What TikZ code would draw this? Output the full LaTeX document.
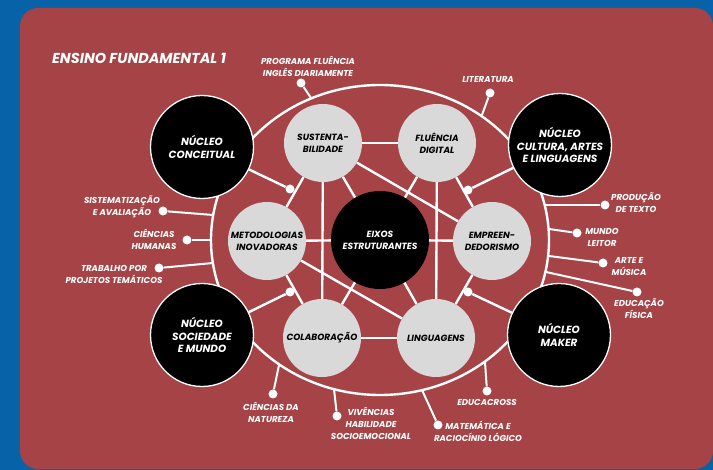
\documentclass[tikz,border=0pt]{standalone}
\usepackage{fontspec}
\setmainfont{Poppins}
\definecolor{bgblue}{RGB}{8,98,168}
\definecolor{panel}{RGB}{165,67,70}
\definecolor{lgray}{RGB}{217,217,217}
\begin{document}
\begin{tikzpicture}[x=1pt,y=-1pt,
  link/.style={draw=white, line width=2.4pt},
  tick/.style={draw=white, line width=2pt},
  inner/.style={circle, fill=lgray, minimum size=78pt, inner sep=0pt, align=center,
    font=\fontsize{9}{11.8}\selectfont\bfseries\itshape, text=black},
  core/.style={circle, fill=black, draw=white, line width=1.3pt, minimum size=103pt, inner sep=0pt,
    align=center, font=\fontsize{10.4}{12.3}\selectfont\bfseries\itshape, text=white},
  hub/.style={circle, fill=black, minimum size=98pt, inner sep=0pt, align=center,
    font=\fontsize{9}{11.8}\selectfont\bfseries\itshape, text=white},
  lab/.style={text=white, align=center, inner sep=0pt,
    font=\fontsize{8.6}{12}\selectfont\bfseries\itshape},
  dot/.style={circle, fill=white, inner sep=0pt, minimum size=9pt}
]
\useasboundingbox (0,0) rectangle (713,470);
\fill[bgblue] (0,0) rectangle (713,470);
\fill[panel, rounded corners=18pt] (20,8) rectangle (713,469);

\node[anchor=west, text=white, inner sep=0pt, font=\fontsize{14.4}{16}\selectfont\bfseries\itshape] (title) at (52,58) {ENSINO FUNDAMENTAL 1};

% big ellipse
\draw[link] (380,240) ellipse [x radius=169, y radius=155];

% outer labels: ellipse points, dots, ticks
\coordinate (e1) at (311,98);   \node[dot] (p1) at (301,83) {};
\coordinate (e2) at (482,115);  \node[dot] (p2) at (490,93) {};
\coordinate (e3) at (213,215);  \node[dot] (p3) at (163,211) {};
\coordinate (e4) at (211,240);  \node[dot] (p4) at (187,240) {};
\coordinate (e5) at (213,263);  \node[dot] (p5) at (159,268) {};
\coordinate (e6) at (279,365);  \node[dot] (p6) at (273,394) {};
\coordinate (e7) at (334,389);  \node[dot] (p7) at (337,416) {};
\coordinate (e8) at (422,390);  \node[dot] (p8) at (438,425) {};
\coordinate (e9) at (485,362);  \node[dot] (p9) at (487,391) {};
\coordinate (e10) at (545,205); \node[dot] (p10) at (605,205) {};
\coordinate (e11) at (549,229); \node[dot] (p11) at (577,233) {};
\coordinate (e12) at (549,256); \node[dot] (p12) at (603,263) {};
\coordinate (e13) at (546,272); \node[dot] (p13) at (637,292) {};
\foreach \i in {1,...,13} {\draw[tick] (e\i) -- (p\i);}

\node[lab] (l1) at (308,66) {PROGRAMA FLUÊNCIA\\INGLÊS DIARIAMENTE};
\node[lab] (l2) at (488,80) {LITERATURA};
\node[lab] (l3) at (122,206.5) {SISTEMATIZAÇÃO\\E AVALIAÇÃO};
\node[lab] (l4) at (154,239.5) {CIÊNCIAS\\HUMANAS};
\node[lab] (l5) at (114,274.5) {TRABALHO POR\\PROJETOS TEMÁTICOS};
\node[lab] (l6) at (271,412) {CIÊNCIAS DA\\NATUREZA};
\node[lab] (l7) at (371,423) {VIVÊNCIAS\\HABILIDADE\\SOCIOEMOCIONAL};
\node[lab] (l8) at (478,431.5) {MATEMÁTICA E\\RACIOCÍNIO LÓGICO};
\node[lab] (l9) at (487,402) {EDUCACROSS};
\node[lab] (l10) at (636,203) {PRODUÇÃO\\DE TEXTO};
\node[lab] (l11) at (602,237) {MUNDO\\LEITOR};
\node[lab] (l12) at (629,267) {ARTE E\\MÚSICA};
\node[lab] (l13) at (639,308.5) {EDUCAÇÃO\\FÍSICA};

% nuclei
\node[core] (conc) at (202,147) {NÚCLEO\\CONCEITUAL};
\node[core] (cult) at (560,145) {NÚCLEO\\CULTURA, ARTES\\E LINGUAGENS};
\node[core] (soc) at (202,335) {NÚCLEO\\SOCIEDADE\\E MUNDO};
\node[core] (maker) at (559,335) {NÚCLEO\\MAKER};

% center and inner circles
\node[hub] (eixos) at (380,240) {EIXOS\\ESTRUTURANTES};
\node[inner] (sust) at (323,143) {SUSTENTA-\\BILIDADE};
\node[inner] (flu) at (437,143) {FLUÊNCIA\\DIGITAL};
\node[inner] (metod) at (267,241) {METODOLOGIAS\\INOVADORAS};
\node[inner] (empre) at (492,241) {EMPREEN-\\DEDORISMO};
\node[inner] (colab) at (322,338) {COLABORAÇÃO};
\node[inner] (ling) at (436,338) {LINGUAGENS};

% inner links
\draw[link] (sust) -- (flu);
\draw[link] (colab) -- (ling);
\draw[link] (sust) -- (eixos);
\draw[link] (flu) -- (eixos);
\draw[link] (metod) -- (eixos);
\draw[link] (empre) -- (eixos);
\draw[link] (colab) -- (eixos);
\draw[link] (ling) -- (eixos);
\draw[link] (sust) -- (metod);
\draw[link] (flu) -- (empre);
\draw[link] (metod) -- (colab);
\draw[link] (empre) -- (ling);
\draw[link] (sust) -- (colab);
\draw[link] (flu) -- (ling);
\draw[link] (sust) -- (empre);
\draw[link] (metod) -- (ling);

% nucleus links with dots
\node[dot] (d1) at (290,189) {};
\node[dot] (d2) at (468,190) {};
\node[dot] (d3) at (290,292) {};
\node[dot] (d4) at (468,292) {};
\draw[link] (conc) -- (d1);
\draw[link] (cult) -- (d2);
\draw[link] (soc) -- (d3);
\draw[link] (maker) -- (d4);
\end{tikzpicture}
\end{document}
